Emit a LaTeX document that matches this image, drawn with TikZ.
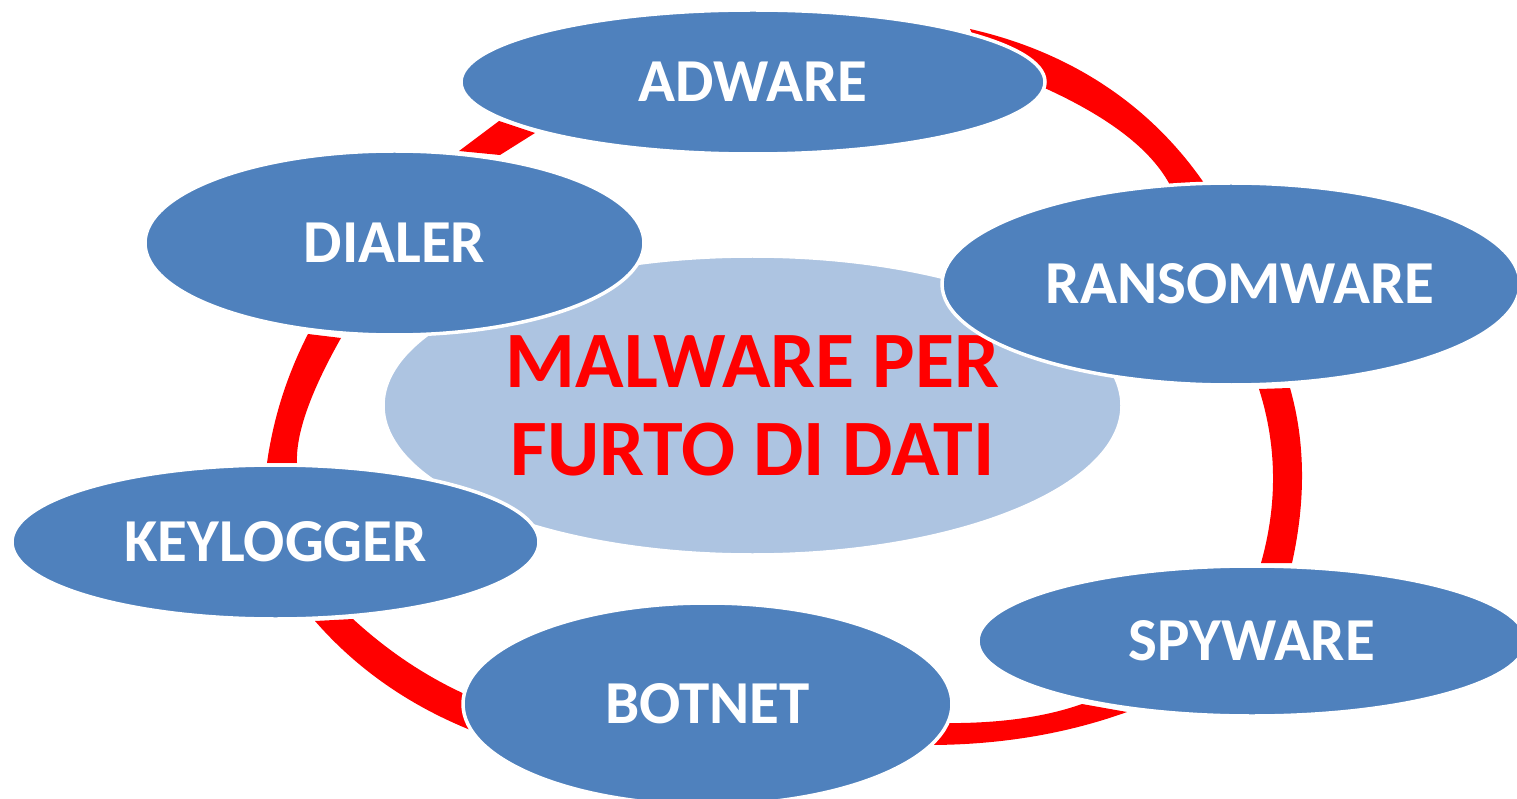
\documentclass[tikz,border=0pt]{standalone}
\usepackage{fontspec}
\setmainfont{Carlito}
\usetikzlibrary{shapes.geometric}
\definecolor{satblue}{HTML}{4F81BD}
\definecolor{hubblue}{HTML}{ADC4E1}
\begin{document}
\begin{tikzpicture}[x=1pt,y=-1pt,
  sat/.style={ellipse, fill=satblue, draw=white, line width=3.5pt, inner sep=0pt,
    text=white, font=\fontsize{61}{70}\selectfont\bfseries},
  sattext/.style={inner sep=0pt, text=white, font=\fontsize{61}{70}\selectfont\bfseries},
  hub/.style={ellipse, fill=hubblue, draw=white, line width=3.5pt, inner sep=0pt,
    text=red, align=center, font=\fontsize{80}{88}\selectfont\bfseries},
  band/.style={fill=red}]
\clip (0,0) rectangle (1517,799);

% red ring segments, drawn first so the ellipses cover their ends
\fill[band] (459,151) -- (499,121) -- (535,133) -- (500,155) -- cycle;
\fill[band] (970,29) .. controls (1067,51) and (1148,102) .. (1204,183)
  -- (1170,185) .. controls (1146,140) and (1085,100) .. (985,64) -- cycle;
\fill[band] (1290,388) .. controls (1305.3,441.7) and (1306,500) .. (1292,563)
  -- (1261,563) .. controls (1277.7,503.7) and (1277,445.7) .. (1259,389) -- cycle;
\fill[band] (925,745) .. controls (997.7,745.3) and (1065,734.3) .. (1127,712)
  -- (1082,704) .. controls (1043.3,717.7) and (995.3,724) .. (938,723) -- cycle;
\fill[band] (315,621) .. controls (358,670.3) and (412.3,707.7) .. (478,733)
  -- (476,699) .. controls (431.7,680.3) and (390.7,653.7) .. (353,619) -- cycle;
\fill[band] (267,463) .. controls (273.3,418) and (287,375) .. (308,334)
  -- (341,338) .. controls (310.3,392.3) and (295.7,434) .. (297,463) -- cycle;

% central topic
\node[hub, minimum width=739pt, minimum height=299pt] (hub) at (752.5,405.5)
  {MALWARE PER\\FURTO DI DATI};

% surrounding malware types
\node[sat, minimum width=584pt, minimum height=144pt] (adware) at (753,82) {ADWARE};
\node[sat, minimum width=499pt, minimum height=184pt] (dialer) at (394.5,243) {DIALER};
\node[sat, minimum width=578pt, minimum height=202pt] (ransom) at (1231,284) {};
\node[sattext] (ransomtext) at ([xshift=9pt]ransom.center) {RANSOMWARE};
\node[sat, minimum width=527pt, minimum height=154pt] (keylog) at (275.5,542) {KEYLOGGER};
\node[sat, minimum width=489pt, minimum height=202pt] (botnet) at (707.5,704) {BOTNET};
\node[sat, minimum width=548pt, minimum height=150pt] (spyware) at (1252,641) {SPYWARE};
\end{tikzpicture}
\end{document}
